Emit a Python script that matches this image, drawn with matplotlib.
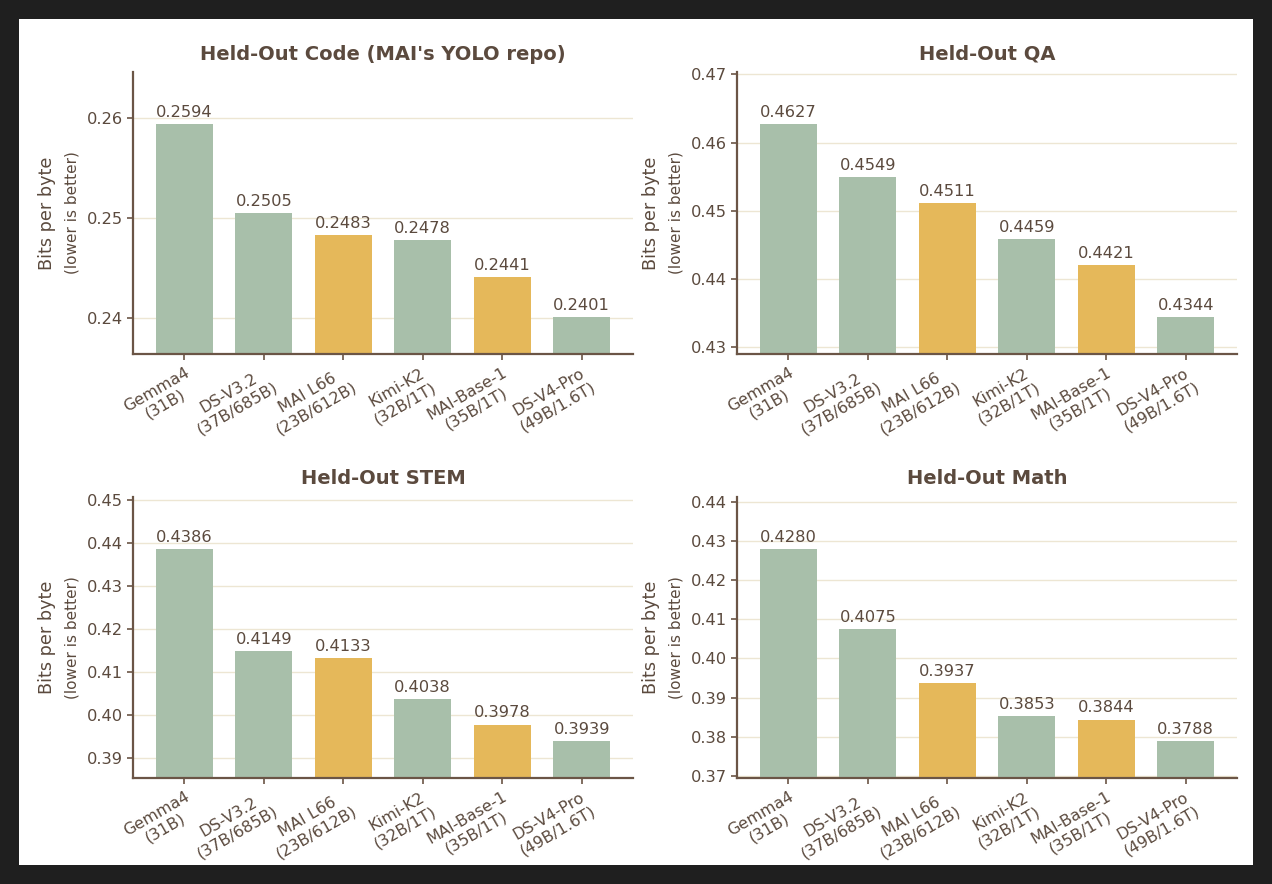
import numpy as np
import matplotlib.pyplot as plt
from matplotlib.patches import Rectangle
from matplotlib.ticker import MultipleLocator, FormatStrFormatter

# Data
models = ["Gemma4\n(31B)", "DS-V3.2\n(37B/685B)", "MAI L66\n(23B/612B)",
          "Kimi-K2\n(32B/1T)", "MAI-Base-1\n(35B/1T)", "DS-V4-Pro\n(49B/1.6T)"]
is_mai = [False, False, True, False, True, False]

titles = ["Held-Out Code (MAI's YOLO repo)", "Held-Out QA",
          "Held-Out STEM", "Held-Out Math"]
code_bpb = [0.2594, 0.2505, 0.2483, 0.2478, 0.2441, 0.2401]
qa_bpb = [0.4627, 0.4549, 0.4511, 0.4459, 0.4421, 0.4344]
stem_bpb = [0.4386, 0.4149, 0.4133, 0.4038, 0.3978, 0.3939]
math_bpb = [0.4280, 0.4075, 0.3937, 0.3853, 0.3844, 0.3788]
series = [code_bpb, qa_bpb, stem_bpb, math_bpb]

# Style
GREEN = "#a8bfaa"
YELLOW = "#e5b85a"
TEXT = "#5b4a3e"
SPINE = "#6b5546"
GRID = "#ede6d3"

W, H = 1272, 884
fig = plt.figure(figsize=(W / 100, H / 100), dpi=100, facecolor="#1f1f1f")
fig.patches.append(Rectangle((19 / W, 19 / H), (1253 - 19) / W, (865 - 19) / H,
                             transform=fig.transFigure, facecolor="white",
                             edgecolor="none", zorder=-10))

# axes boxes in pixels: (left, top, right, bottom)
boxes = [(133, 72, 633, 354), (737, 72, 1237, 354),
         (133, 497, 633, 778), (737, 497, 1237, 778)]

x = np.arange(len(models))
colors = [YELLOW if m else GREEN for m in is_mai]

for (l, t, r, b), title, vals in zip(boxes, titles, series):
    ax = fig.add_axes([l / W, 1 - b / H, (r - l) / W, (b - t) / H])
    ax.set_facecolor("none")
    bars = ax.bar(x, vals, width=0.72, color=colors, zorder=2)
    lo, hi = min(vals), max(vals)
    rng = hi - lo
    ax.set_ylim(lo - 0.19 * rng, hi + 0.27 * rng)
    ax.yaxis.set_major_locator(MultipleLocator(0.01))
    ax.yaxis.set_major_formatter(FormatStrFormatter("%.2f"))
    ax.grid(axis="y", color=GRID, linewidth=1, zorder=0)
    ax.set_axisbelow(True)

    for bar, v in zip(bars, vals):
        ax.annotate(f"{v:.4f}", (bar.get_x() + bar.get_width() / 2, v),
                    xytext=(0, 3), textcoords="offset points",
                    ha="center", va="bottom", fontsize=11.7, color=TEXT)

    ax.set_xticks(x)
    ax.set_xticklabels(models, rotation=30, ha="right", rotation_mode="anchor",
                       multialignment="center", fontsize=11.5, color=TEXT)
    ax.tick_params(axis="y", labelsize=11.7, labelcolor=TEXT, color=SPINE,
                   length=4, width=1.2)
    ax.tick_params(axis="x", color=SPINE, length=4, width=1.2)

    for side in ("top", "right"):
        ax.spines[side].set_visible(False)
    for side in ("left", "bottom"):
        ax.spines[side].set_color(SPINE)
        ax.spines[side].set_linewidth(1.6)

    ax.set_title(title, fontsize=14, fontweight="bold", color=TEXT, pad=9)
    ax.text(-0.172, 0.5, "Bits per byte", transform=ax.transAxes, rotation=90,
            ha="center", va="center", fontsize=12.7, color=TEXT)
    ax.text(-0.122, 0.5, "(lower is better)", transform=ax.transAxes,
            rotation=90, ha="center", va="center", fontsize=11, color=TEXT)

fig.savefig("out.png", dpi=100, facecolor=fig.get_facecolor())
